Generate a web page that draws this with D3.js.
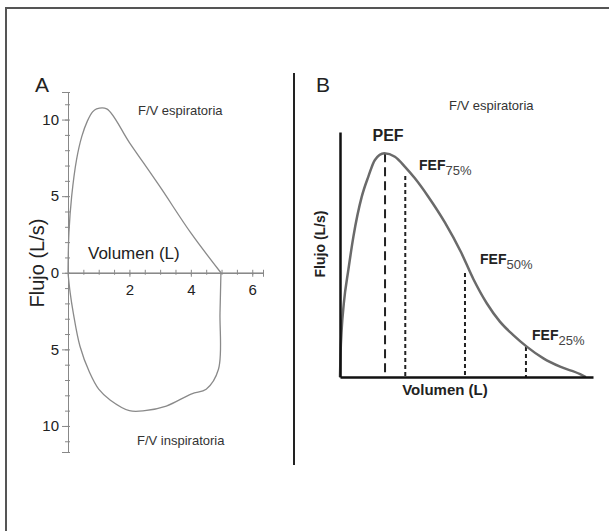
<!DOCTYPE html>
<html><head><meta charset="utf-8">
<script src="https://cdn.jsdelivr.net/npm/d3@7"></script>
<style>body{margin:0;background:#fff}svg{display:block;font-family:"Liberation Sans",Arial,sans-serif}</style>
</head><body>
<svg id="c" width="609" height="531"></svg>
<script>
// ---- Panel A data (Volumen L, Flujo L/s) ----
const expiratoryA = [[0,0],[0.03,2.6],[0.12,5.0],[0.28,7.4],[0.45,8.9],[0.63,9.9],[0.8,10.5],[0.93,10.7],[1.26,10.7],[2.0,8.5],[3.0,5.6],[4.0,2.6],[4.98,0]];
const inspiratoryA = [[0,0],[0.07,-1.3],[0.17,-2.6],[0.39,-4.8],[0.7,-6.5],[1.0,-7.6],[1.37,-8.3],[2.0,-9.0],[2.5,-9.0],[3.2,-8.7],[4.03,-7.9],[4.5,-7.6],[4.9,-6.3],[4.95,-2.6],[4.98,0]];
const xTicksA = [2,4,6];
const yTicksA = [10,5,0,-5,-10];
// ---- Panel B data (relative units) ----
const curveB = [[0,0],[0.02,0.9],[0.07,2.0],[0.15,3.0],[0.33,4.37],[0.53,5.73],[0.86,7.36],[1.12,8.18],[1.38,8.86],[1.75,9.13],[2.17,8.99],[2.57,8.58],[2.96,8.11],[3.49,7.36],[4.15,6.3],[4.78,5.1],[5.27,4.0],[5.8,3.01],[6.32,2.26],[6.85,1.71],[7.38,1.24],[8.04,0.76],[8.7,0.42],[9.49,0.12],[9.72,0]];
const markersB = [
  {name:"PEF", sub:"", x:1.78, y:9.13, dash:"9,5"},
  {name:"FEF", sub:"75%", x:2.58, y:8.2, dash:"4,3"},
  {name:"FEF", sub:"50%", x:4.94, y:4.24, dash:"4,3"},
  {name:"FEF", sub:"25%", x:7.35, y:1.22, dash:"4,3"}
];

const svg = d3.select("#c");
// frame
svg.append("path").attr("d","M6,531V8H609").attr("fill","none").attr("stroke","#555").attr("stroke-width",2);
// separator
svg.append("line").attr("x1",294).attr("x2",294).attr("y1",73).attr("y2",465).attr("stroke","#222").attr("stroke-width",2);

// ===== Panel A =====
const xA = d3.scaleLinear().domain([0,6.35]).range([68,263]);
const yA = d3.scaleLinear().domain([-11.7,11.8]).range([452,92]);
const gA = svg.append("g");
const axisCol = "#888";
const yMinor = d3.range(-11,12,1);
gA.append("g").attr("transform",`translate(${xA(0)},0)`).call(d3.axisLeft(yA).tickValues(yMinor).tickSize(3).tickFormat(""));
gA.append("g").attr("transform",`translate(${xA(0)},0)`).call(d3.axisRight(yA).tickValues(yMinor).tickSize(2).tickFormat(""));
gA.append("g").attr("transform",`translate(${xA(0)},0)`).call(d3.axisLeft(yA).tickValues(yTicksA).tickSize(6).tickPadding(3).tickFormat(d=>Math.abs(d)));
const xMinor = d3.range(0.5,6.35,0.5);
gA.append("g").attr("transform",`translate(0,${yA(0)})`).call(d3.axisTop(xA).tickValues(xMinor).tickSize(3).tickFormat(""));
gA.append("g").attr("transform",`translate(0,${yA(0)})`).call(d3.axisBottom(xA).tickValues(xMinor).tickSize(2).tickFormat(""));
gA.append("g").attr("transform",`translate(0,${yA(0)})`).call(d3.axisBottom(xA).tickValues(xTicksA).tickSize(4).tickPadding(8).tickFormat(d3.format("d")));
gA.selectAll(".domain").attr("stroke",axisCol).attr("stroke-width",1);
gA.selectAll(".tick line").attr("stroke",axisCol);
gA.selectAll(".tick text").attr("font-size",15).attr("fill","#222").attr("font-family","Liberation Sans, Arial, sans-serif");
const lineA = d3.line().x(d=>xA(d[0])).y(d=>yA(d[1])).curve(d3.curveCatmullRom.alpha(0.5));
gA.append("path").attr("d",lineA(expiratoryA)).attr("fill","none").attr("stroke","#8a8a8a").attr("stroke-width",1.3);
gA.append("path").attr("d",lineA(inspiratoryA)).attr("fill","none").attr("stroke","#8a8a8a").attr("stroke-width",1.3);
gA.append("text").attr("x",35).attr("y",92).attr("font-size",21).attr("fill","#222").text("A");
gA.append("text").attr("transform","translate(44,263) rotate(-90)").attr("text-anchor","middle").attr("font-size",20).attr("fill","#222").text("Flujo (L/s)");
gA.append("text").attr("x",88).attr("y",259).attr("font-size",17).attr("fill","#222").text("Volumen (L)");
gA.append("text").attr("x",138).attr("y",115).attr("font-size",13).attr("fill","#333").text("F/V espiratoria");
gA.append("text").attr("x",137).attr("y",445).attr("font-size",13).attr("fill","#333").text("F/V inspiratoria");

// ===== Panel B =====
const xB = d3.scaleLinear().domain([0,10]).range([340,593]);
const yB = d3.scaleLinear().domain([0,10]).range([377,132]);
const gB = svg.append("g");
const lineB = d3.line().x(d=>xB(d[0])).y(d=>yB(d[1])).curve(d3.curveMonotoneX);
markersB.forEach(m=>{
  gB.append("line").attr("x1",xB(m.x)).attr("x2",xB(m.x)).attr("y1",yB(m.y)).attr("y2",yB(0))
    .attr("stroke","#222").attr("stroke-width",2).attr("stroke-dasharray",m.dash);
});
gB.append("path").attr("d",lineB(curveB)).attr("fill","none").attr("stroke","#6a6a6a").attr("stroke-width",2.5);
gB.append("g").attr("transform",`translate(0,${yB(0)})`).call(d3.axisBottom(xB).tickValues([]).tickSizeOuter(0));
gB.append("g").attr("transform",`translate(${xB(0)},0)`).call(d3.axisLeft(yB).tickValues([]).tickSizeOuter(0));
gB.selectAll(".domain").attr("stroke","#111").attr("stroke-width",2.5);
markersB.forEach(m=>{
  if(!m.sub){
    gB.append("text").attr("x",xB(m.x)+3).attr("y",141).attr("text-anchor","middle").attr("font-size",16).attr("font-weight","bold").attr("fill","#222").text(m.name);
  }
});
const fefPos = [[419,170],[480,264],[532,340]];
markersB.filter(m=>m.sub).forEach((m,i)=>{
  const t = gB.append("text").attr("x",fefPos[i][0]).attr("y",fefPos[i][1]).attr("fill","#222");
  t.append("tspan").attr("font-size",14).attr("font-weight","bold").text(m.name);
  t.append("tspan").attr("font-size",13).attr("dy",5).attr("fill","#444").text(m.sub);
});
gB.append("text").attr("x",316).attr("y",92).attr("font-size",21).attr("fill","#222").text("B");
gB.append("text").attr("x",449).attr("y",110).attr("font-size",13).attr("fill","#333").text("F/V espiratoria");
gB.append("text").attr("transform","translate(325,244) rotate(-90)").attr("text-anchor","middle").attr("font-size",14).attr("font-weight","bold").attr("fill","#222").text("Flujo (L/s)");
gB.append("text").attr("x",445).attr("y",395).attr("text-anchor","middle").attr("font-size",15).attr("font-weight","bold").attr("fill","#222").text("Volumen (L)");
</script>
</body></html>
